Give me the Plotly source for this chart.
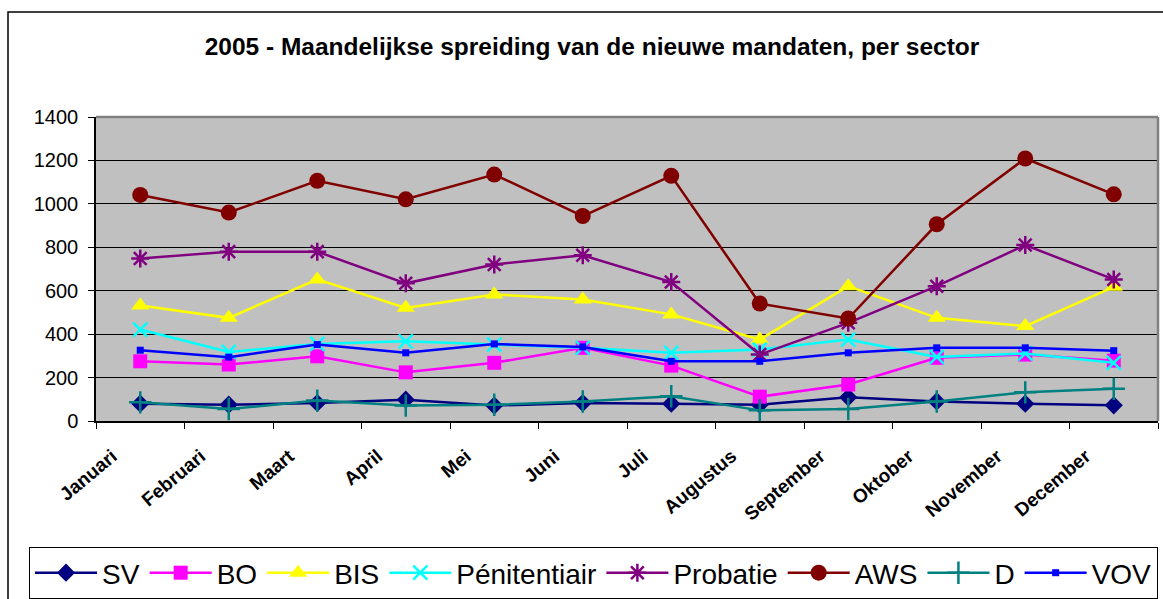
import plotly.graph_objects as go

months = ["Januari", "Februari", "Maart", "April", "Mei", "Juni", "Juli",
          "Augustus", "September", "Oktober", "November", "December"]

sv = [80, 75, 83, 98, 71, 83, 80, 75, 109, 90, 80, 72]
bo = [275, 260, 298, 224, 268, 337, 255, 112, 168, 291, 306, 278]
bis = [532, 475, 652, 521, 583, 560, 491, 375, 621, 475, 437, 618]
penitentiair = [421, 318, 355, 367, 352, 337, 314, 329, 375, 295, 311, 268]
probatie = [748, 780, 780, 634, 721, 763, 640, 306, 452, 621, 810, 652]
aws = [1041, 960, 1106, 1021, 1135, 944, 1129, 541, 472, 906, 1209, 1044]
d = [86, 55, 94, 71, 75, 90, 114, 49, 55, 90, 132, 148]
vov = [326, 294, 352, 314, 355, 341, 275, 275, 314, 337, 337, 324]

FONT = "Liberation Sans, Arial, sans-serif"

series = [
    ("SV", sv, "#000080", "diamond", 14, None),
    ("BO", bo, "#FF00FF", "square", 14, None),
    ("BIS", bis, "#FFFF00", "triangle-up", 16, None),
    ("Pénitentiair", penitentiair, "#00FFFF", "x-thin-open", 14, 2.5),
    ("Probatie", probatie, "#800080", "asterisk-open", 15, 2.5),
    ("AWS", aws, "#800000", "circle", 16, None),
    ("D", d, "#008080", "cross-thin-open", 16, 2.5),
    ("VOV", vov, "#0000FF", "square", 7, None),
]

fig = go.Figure()
for name, vals, color, sym, size, lw in series:
    marker = dict(symbol=sym, size=size, color=color)
    if lw is not None:
        marker["line"] = dict(color=color, width=lw)
    else:
        marker["line"] = dict(width=0)
    fig.add_trace(go.Scatter(
        x=months, y=vals, name=name, mode="lines+markers",
        line=dict(color=color, width=2.5), marker=marker,
    ))

W, H = 1163, 599
L, R, T, B = 96, 1158, 117, 421
pw, ph = R - L, B - T

def px(x):
    return (x - L) / pw

def py(y):
    return (B - y) / ph

fig.update_layout(
    width=W, height=H,
    margin=dict(l=L, r=W - R, t=T, b=H - B, pad=0, autoexpand=False),
    paper_bgcolor="white",
    plot_bgcolor="#C0C0C0",
    font=dict(family=FONT, color="black"),
    title=dict(
        text="<b>2005 - Maandelijkse spreiding van de nieuwe mandaten, per sector</b>",
        x=592 / W, y=1 - 46 / H, xanchor="center", yanchor="middle",
        font=dict(size=24.5, family=FONT, color="black"),
    ),
    showlegend=True,
    legend=dict(
        orientation="h",
        x=px(29), y=py(599), xanchor="left", yanchor="bottom",
        bgcolor="white", bordercolor="black", borderwidth=1,
        font=dict(size=28, family=FONT, color="black"),
        itemwidth=62,
        tracegroupgap=0,
    ),
    xaxis=dict(
        type="category",
        range=[-0.5, 11.5],
        tickson="boundaries",
        ticks="outside", ticklen=6, tickcolor="black", tickwidth=1,
        showline=True, linecolor="black", linewidth=1.5,
        showgrid=False, zeroline=False,
        automargin=False,
        tickangle=-40,
        ticklabelstandoff=15,
        ticklabelshift=-28,
        tickfont=dict(size=19, family=FONT, color="black", weight="bold"),
    ),
    yaxis=dict(
        range=[0, 1400], dtick=200,
        ticks="outside", ticklen=6, tickcolor="black", tickwidth=1,
        showline=True, linecolor="black", linewidth=1.5,
        showgrid=True, gridcolor="black", gridwidth=1,
        zeroline=False,
        automargin=False,
        ticklabelstandoff=6,
        tickfont=dict(size=20, family=FONT, color="black"),
    ),
    shapes=[
        # outer chart border
        dict(type="rect", xref="paper", yref="paper",
             x0=px(8), x1=px(1190), y0=py(640), y1=py(12),
             line=dict(color="black", width=1.5), fillcolor="rgba(0,0,0,0)",
             layer="below"),
        # plot-area gray frame top/right
        dict(type="line", xref="paper", yref="paper",
             x0=0, x1=1, y0=1, y1=1, line=dict(color="#808080", width=2.5)),
        dict(type="line", xref="paper", yref="paper",
             x0=1, x1=1, y0=0, y1=1, line=dict(color="#808080", width=2.5)),
    ],
)

fig.write_html("out.html", config={"displayModeBar": False},
               post_script="document.body.style.margin='0px';")
